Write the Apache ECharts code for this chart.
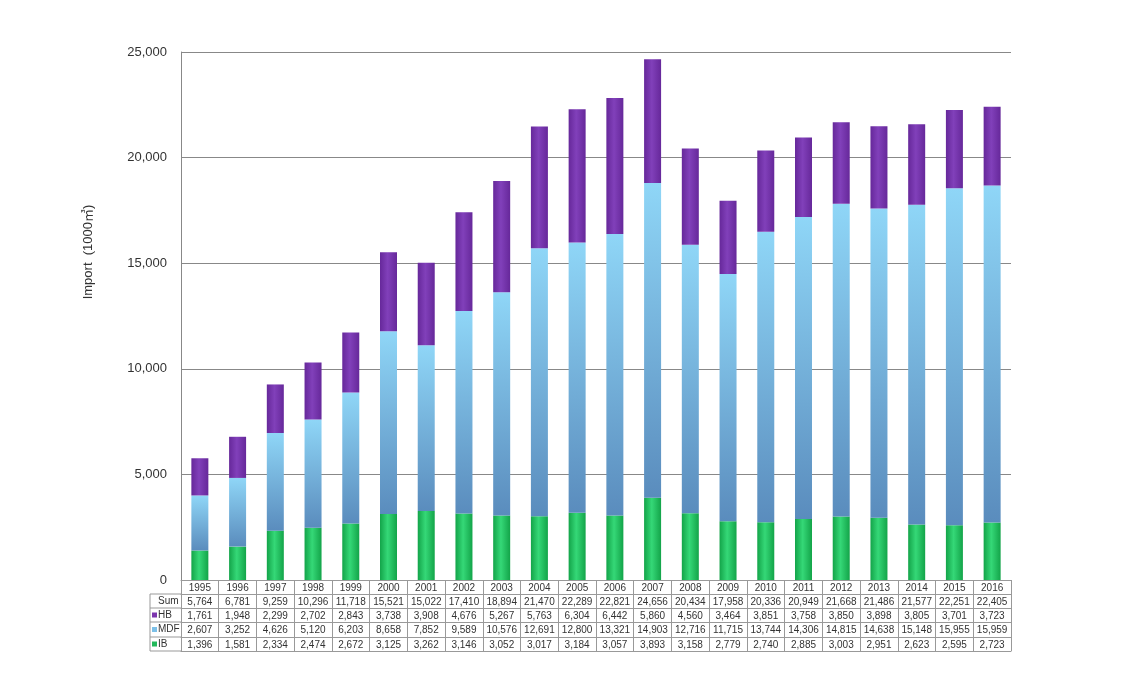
<!DOCTYPE html>
<html>
<head>
<meta charset="utf-8">
<script src="https://cdn.jsdelivr.net/npm/echarts@6/dist/echarts.min.js"></script>
<style>
  html, body { margin: 0; padding: 0; background: #fff; }
  #chart { width: 1123px; height: 697px; }
</style>
</head>
<body>
<div id="chart"></div>
<script>
// data (1000 m3)
var years = ['1995', '1996', '1997', '1998', '1999', '2000', '2001', '2002', '2003', '2004', '2005',
  '2006', '2007', '2008', '2009', '2010', '2011', '2012', '2013', '2014', '2015', '2016']
var sumValues = [5764, 6781, 9259, 10296, 11718, 15521, 15022, 17410, 18894, 21470, 22289,
  22821, 24656, 20434, 17958, 20336, 20949, 21668, 21486, 21577, 22251, 22405]
var hbValues = [1761, 1948, 2299, 2702, 2843, 3738, 3908, 4676, 5267, 5763, 6304,
  6442, 5860, 4560, 3464, 3851, 3758, 3850, 3898, 3805, 3701, 3723]
var mdfValues = [2607, 3252, 4626, 5120, 6203, 8658, 7852, 9589, 10576, 12691, 12800,
  13321, 14903, 12716, 11715, 13744, 14306, 14815, 14638, 15148, 15955, 15959]
var ibValues = [1396, 1581, 2334, 2474, 2672, 3125, 3262, 3146, 3052, 3017, 3184,
  3057, 3893, 3158, 2779, 2740, 2885, 3003, 2951, 2623, 2595, 2723]
var yTicks = [0, 5000, 10000, 15000, 20000, 25000]

// layout
var gridLeft = 181
var gridRight = 1011
var gridTop = 52
var axisY = 580
var rowOffsets = [14, 28, 42, 57, 71] // Sum, HB, MDF, IB, bottom border
var lineColor = '#999'
var textColor = '#333'
var font = "'Liberation Sans', 'Noto Sans CJK KR', sans-serif"

function fmt(v) {
  return String(v).replace(/\B(?=(\d{3})+(?!\d))/g, ',')
}

function tableAxis(offset, values) {
  return {
    type: 'category',
    data: years,
    position: 'bottom',
    offset: offset,
    axisLine: { show: true, lineStyle: { color: lineColor, width: 1 } },
    axisTick: { show: false },
    splitLine: { show: false },
    axisLabel: {
      show: !!values,
      margin: 3,
      fontSize: 10,
      fontFamily: font,
      color: textColor,
      interval: 0,
      formatter: function (v, i) { return values ? fmt(values[i]) : '' }
    }
  }
}

function cylinder(dark, light) {
  return new echarts.graphic.LinearGradient(0, 0, 1, 0, [
    { offset: 0, color: dark },
    { offset: 0.45, color: light },
    { offset: 1, color: dark }
  ])
}

var rowHeaders = [
  { text: 'Sum', key: null },
  { text: 'HB', key: '#7b35ad' },
  { text: 'MDF', key: '#7cc0e8' },
  { text: 'IB', key: '#22b85a' }
]

var headerGraphics = []
// header column borders
headerGraphics.push({
  type: 'line',
  shape: { x1: 150, y1: axisY + rowOffsets[0], x2: 150, y2: axisY + rowOffsets[4] },
  style: { stroke: lineColor, lineWidth: 1 }
})
rowOffsets.forEach(function (o) {
  headerGraphics.push({
    type: 'line',
    shape: { x1: 150, y1: axisY + o, x2: gridLeft, y2: axisY + o },
    style: { stroke: lineColor, lineWidth: 1 }
  })
})
rowHeaders.forEach(function (h, i) {
  var midY = axisY + (rowOffsets[i] + rowOffsets[i + 1]) / 2
  if (h.key) {
    headerGraphics.push({
      type: 'rect',
      shape: { x: 152, y: midY - 2.5, width: 5, height: 5 },
      style: { fill: h.key }
    })
  }
  headerGraphics.push({
    type: 'text',
    x: h.key ? 158 : 158,
    y: midY,
    style: {
      text: h.text,
      fill: textColor,
      font: '10px ' + font,
      textVerticalAlign: 'middle',
      verticalAlign: 'middle'
    }
  })
})
// y axis title
headerGraphics.push({
  type: 'text',
  x: 88,
  y: 252,
  rotation: Math.PI / 2,
  style: {
    text: 'Import  (1000㎥)',
    fill: textColor,
    font: '13px ' + font,
    align: 'center',
    verticalAlign: 'middle'
  }
})

var chart = echarts.init(document.getElementById('chart'))
chart.setOption({
  backgroundColor: '#fff',
  animation: false,
  grid: {
    left: gridLeft,
    right: 1123 - gridRight,
    top: gridTop,
    bottom: 697 - axisY
  },
  xAxis: [
    {
      type: 'category',
      data: years,
      position: 'bottom',
      axisLine: { show: true, lineStyle: { color: lineColor, width: 1 } },
      axisTick: { show: true, length: rowOffsets[4], lineStyle: { color: lineColor } },
      axisLabel: { margin: 3, fontSize: 10, fontFamily: font, color: textColor, interval: 0 }
    },
    tableAxis(rowOffsets[0], sumValues),
    tableAxis(rowOffsets[1], hbValues),
    tableAxis(rowOffsets[2], mdfValues),
    tableAxis(rowOffsets[3], ibValues),
    tableAxis(rowOffsets[4], null)
  ],
  yAxis: {
    type: 'value',
    min: yTicks[0],
    max: yTicks[yTicks.length - 1],
    interval: yTicks[1] - yTicks[0],
    axisLine: { show: true, lineStyle: { color: '#888' } },
    axisTick: { show: false },
    splitLine: { lineStyle: { color: '#888', width: 1 } },
    axisLabel: { margin: 14, fontSize: 13, fontFamily: font, color: textColor, formatter: fmt }
  },
  graphic: headerGraphics,
  series: [
    {
      name: 'IB',
      type: 'bar',
      stack: 'total',
      barWidth: 17,
      data: ibValues,
      itemStyle: { color: cylinder('#13a449', '#35d877') }
    },
    {
      name: 'MDF',
      type: 'bar',
      stack: 'total',
      data: mdfValues,
      itemStyle: {
        color: new echarts.graphic.LinearGradient(0, 0, 0, 1, [
          { offset: 0, color: '#8fd6f7' },
          { offset: 1, color: '#5a8cbd' }
        ])
      }
    },
    {
      name: 'HB',
      type: 'bar',
      stack: 'total',
      data: hbValues,
      itemStyle: { color: cylinder('#66289a', '#8140ba') }
    }
  ]
})
</script>
</body>
</html>
